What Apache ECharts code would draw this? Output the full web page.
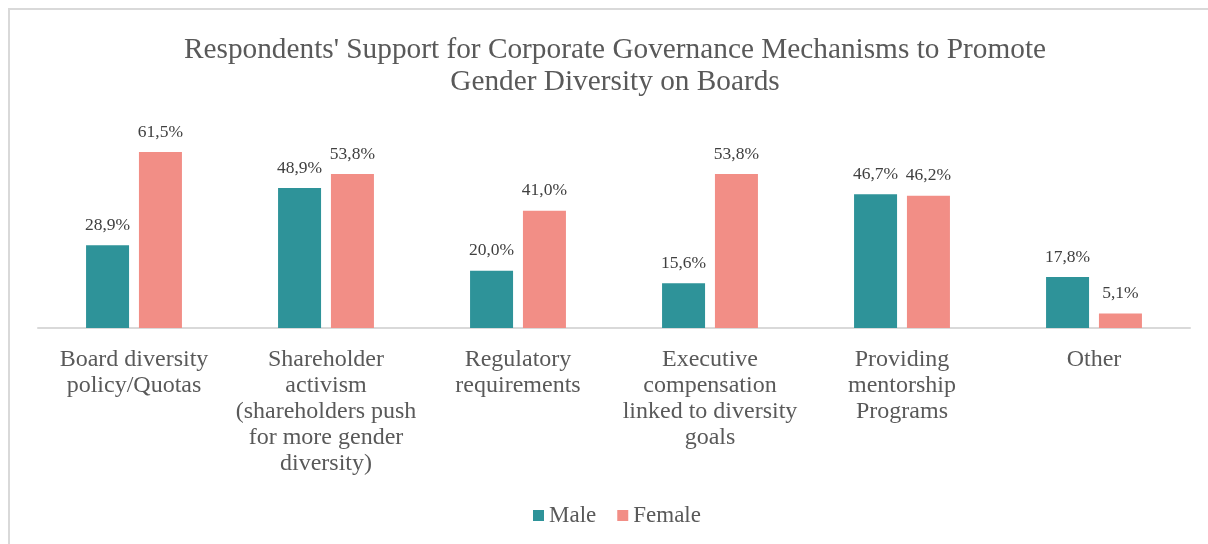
<!DOCTYPE html>
<html>
<head>
<meta charset="utf-8">
<script src="https://cdn.jsdelivr.net/npm/echarts@6/dist/echarts.min.js"></script>
<style>html,body{margin:0;padding:0;background:#fff;}#c{width:1208px;height:544px;}</style>
</head>
<body>
<div id="c"></div>
<script>
const categories = [
  'Board diversity\npolicy/Quotas',
  'Shareholder\nactivism\n(shareholders push\nfor more gender\ndiversity)',
  'Regulatory\nrequirements',
  'Executive\ncompensation\nlinked to diversity\ngoals',
  'Providing\nmentorship\nPrograms',
  'Other'
];
const male = [28.9, 48.9, 20.0, 15.6, 46.7, 17.8];
const female = [61.5, 53.8, 41.0, 53.8, 46.2, 5.1];
const seriesNames = ['Male', 'Female'];

const FONT = '"Liberation Serif", "Times New Roman", serif';
const chart = echarts.init(document.getElementById('c'));
const fmt = p => p.value.toFixed(1).replace('.', ',') + '%';
const labelCfg = {show: true, position: 'top', distance: 11, formatter: fmt,
  fontFamily: FONT, fontSize: 17.5, color: '#404040'};
chart.setOption({
  animation: false,
  backgroundColor: '#fff',
  graphic: [{type: 'rect', shape: {x: 9, y: 9, width: 1400, height: 800},
    style: {fill: 'none', stroke: '#d9d9d9', lineWidth: 2}, silent: true}],
  title: {
    text: "Respondents' Support for Corporate Governance Mechanisms to Promote\nGender Diversity on Boards",
    left: 610, top: 29, textAlign: 'center',
    textStyle: {fontFamily: FONT, fontSize: 29.3, fontWeight: 'normal', color: '#595959', lineHeight: 32}
  },
  legend: {
    data: seriesNames, top: 499, left: 528, itemWidth: 11, itemHeight: 11, itemGap: 21,
    icon: 'rect',
    textStyle: {fontFamily: FONT, fontSize: 23, color: '#595959'}
  },
  grid: {left: 38, right: 18, top: 127.7, bottom: 544 - 328, containLabel: false},
  xAxis: {
    type: 'category', data: categories,
    axisLine: {lineStyle: {color: '#d9d9d9', width: 2}},
    axisTick: {show: false},
    axisLabel: {fontFamily: FONT, fontSize: 24, color: '#595959', lineHeight: 26, margin: 19, interval: 0}
  },
  yAxis: {type: 'value', min: 0, max: 70, show: false, splitLine: {show: false}},
  series: [
    {name: 'Male', type: 'bar', data: male, barWidth: 43, barGap: '23%',
     itemStyle: {color: '#2E9399'}, label: labelCfg},
    {name: 'Female', type: 'bar', data: female, barWidth: 43,
     itemStyle: {color: '#F28E86'}, label: labelCfg}
  ]
});
</script>
</body>
</html>
